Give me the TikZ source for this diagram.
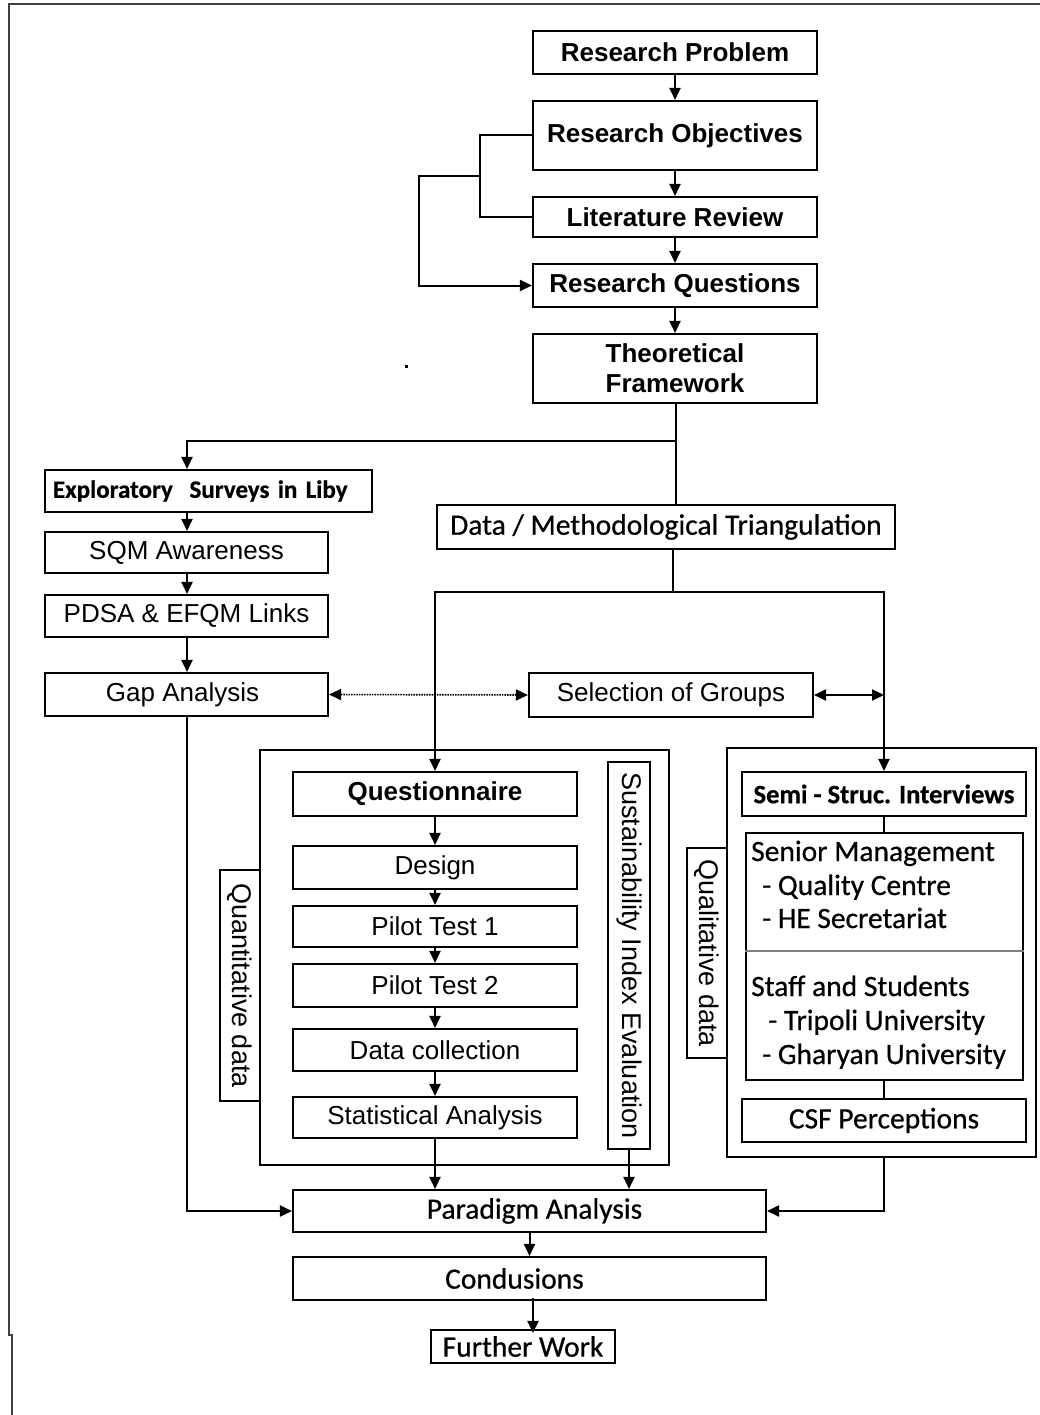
\documentclass[tikz,border=0pt]{standalone}
\usepackage{fontspec}
\setmainfont{Liberation Sans}
\newfontfamily\calfont[FakeBold=0.6]{Carlito}
\usetikzlibrary{arrows.meta}

\begin{document}
\begin{tikzpicture}[x=1pt,y=-1pt,
  box/.style={draw, line width=2.1pt, inner sep=0pt, align=center},
  sz/.style 2 args={minimum width=#1, minimum height=#2},
  fB/.style={font=\fontsize{26}{30}\selectfont\bfseries},
  fR/.style={font=\fontsize{26}{30}\selectfont},
  fC/.style={font=\calfont\fontsize{29.5}{33}\selectfont},
  fCB/.style={font=\calfont\fontsize{25}{30}\selectfont\bfseries},
  fV/.style={font=\fontsize{27}{30}\selectfont, rotate=-90},
  item/.style={anchor=base west, inner sep=0pt, font=\calfont\fontsize{29.5}{33}\selectfont},
  link/.style={line width=2pt},
  arr/.style={link, -{Triangle[length=12pt,width=11pt]}},
  darr/.style={link, {Triangle[length=12pt,width=11pt]}-{Triangle[length=12pt,width=11pt]}},
]
\useasboundingbox (0,0) rectangle (1040,1415);

% page frame
\draw[line width=2pt, black!75] (1040,4) -- (9,4) -- (9,1335) -- (12,1335) -- (12,1415);
\fill (404.5,364.5) rectangle ++(3.5,3.5);

% main research chain
\node[box, fB, sz={284}{43}] (rp) at (675,52.5) {Research Problem};
\node[box, fB, sz={284}{69}] (ro) at (675,135.5) {Research Objectives};
\node[box, fB, sz={284}{40}] (lr) at (675,217) {Literature Review};
\node[box, fB, sz={284}{43}] (rq) at (675,285.5) {Research Questions};
\node[box, fB, sz={284}{69}] (tf) at (675,368.5) {Theoretical\\Framework};

% exploratory branch
\node[box, fCB, sz={327}{42}, text width=311, inner xsep=8pt, align=left] (exp) at (208.5,491) {Exploratory\ \ Surveys in Liby};
\node[box, fR, sz={283}{41}] (sqm) at (186.5,552.5) {SQM Awareness};
\node[box, fR, sz={283}{42}] (pdsa) at (186.5,616) {PDSA \& EFQM Links};
\node[box, fR, sz={283}{43}] (gap) at (186.5,694.5) {Gap Analysis\hspace{8pt}};

% triangulation
\node[box, fC, sz={458}{44}] (dmt) at (666,527) {Data / Methodological Triangulation};
\node[box, fR, sz={284}{44}] (sel) at (671,695) {Selection of Groups};

% quantitative group
\node[box, sz={409}{415}] (qgrp) at (464.5,957.5) {};
\node[box, fB, sz={284}{44}] (quest) at (435,794) {Questionnaire};
\node[box, fR, sz={284}{43}] (design) at (435,867.5) {Design};
\node[box, fR, sz={284}{41}] (p1) at (435,926.5) {Pilot Test 1};
\node[box, fR, sz={284}{43}] (p2) at (435,985.5) {Pilot Test 2};
\node[box, fR, sz={284}{42}] (dc) at (435,1050) {Data collection};
\node[box, fR, sz={284}{41}] (sa) at (435,1117.5) {Statistical Analysis};
\node[box, fV, sz={231}{40}] (quant) at (240,985.5) {Quantitative data};
\node[box, fV, sz={387}{42}] (sie) at (629,955.5) {Sustainability Index Evaluation};

% qualitative group
\node[box, sz={309}{409}] (rgrp) at (881.5,952.5) {};
\node[box, sz={284}{44}, font=\calfont\fontsize{26.5}{30}\selectfont\bfseries] (semi) at (884,794) {Semi - Struc. Interviews};
\node[box, sz={277}{247}] (inner) at (884.5,956.5) {};
\draw[line width=1.2pt, black!50] (inner.west |- 0,951) -- (inner.east |- 0,951);
\node[item] (sm) at (751,861) {Senior Management};
\node[item] (qc) at (762,895) {- Quality Centre};
\node[item] (hes) at (762,928) {- HE Secretariat};
\node[item] (ss) at (751,996) {Staff and Students};
\node[item] (tu) at (768,1030) {- Tripoli University};
\node[item] (gu) at (762,1064) {- Gharyan University};
\node[box, fC, sz={284}{43}] (csf) at (884,1120.5) {CSF Perceptions};
\node[box, fV, sz={210}{40}] (qual) at (707,953) {Qualitative data};

% synthesis
\node[box, fC, sz={473}{42}] (pa) at (529.5,1211) {\hspace{10pt}Paradigm Analysis};
\node[box, fC, sz={473}{43}] (cond) at (529.5,1278.5) {Condusions\hspace{30pt}};
\node[box, fC, sz={184}{33}] (fw) at (523,1346.5) {Further Work};

% helper coordinates
\coordinate (fb1) at (480,176);
\coordinate (fb2) at (419,176);
\coordinate (split) at (676,441);
\coordinate (lx) at (187,0);
\coordinate (br) at (673,592);
\coordinate (fx) at (533,0);

% connectors: research chain
\draw[arr] (rp) -- (ro);
\draw[arr] (ro) -- (lr);
\draw[arr] (lr) -- (rq);
\draw[arr] (rq) -- (tf);
\draw[link] (ro.west) -- (ro.west -| fb1) -- (lr.west -| fb1) -- (lr.west);
\draw[arr] (fb1) -- (fb2) |- (rq.west);

% connectors: split below the framework
\draw[link] (tf.south -| split) -- (split);
\draw[arr] (split) -| (exp.north -| lx);
\draw[link] (split) -- (split |- dmt.north);
\draw[arr] (exp.south -| lx) -- (sqm.north -| lx);
\draw[arr] (sqm.south -| lx) -- (pdsa.north -| lx);
\draw[arr] (pdsa.south -| lx) -- (gap.north -| lx);
\draw[darr, line width=1.6pt, densely dotted] (gap.east) -- (sel.west);

% connectors: triangulation branches
\draw[link] (dmt.south -| br) -- (br);
\draw[arr] (br) -| (quest.north);
\draw[arr] (br) -| (semi.north);
\draw[darr] (sel.east) -- (sel.east -| semi.north);

% connectors: questionnaire steps
\draw[arr] (quest) -- (design);
\draw[arr] (design) -- (p1);
\draw[arr] (p1) -- (p2);
\draw[arr] (p2) -- (dc);
\draw[arr] (dc) -- (sa);

% connectors: interview block
\draw[link] (semi.south) -- (inner.north -| semi.south);
\draw[link] (inner.south -| csf.north) -- (csf.north);

% connectors: into the paradigm analysis
\draw[arr] (sa.south) -- (sa.south |- pa.north);
\draw[arr] (sie.east) -- (sie.east |- pa.north);
\draw[arr] (gap.south -| lx) |- (pa.west);
\draw[arr] (rgrp.south -| semi.south) |- (pa.east);
\draw[arr] (pa) -- (cond);
\draw[arr] ([yshift=3pt]cond.south -| fx) -- ([yshift=-4pt]fw.north -| fx);
\end{tikzpicture}
\end{document}
